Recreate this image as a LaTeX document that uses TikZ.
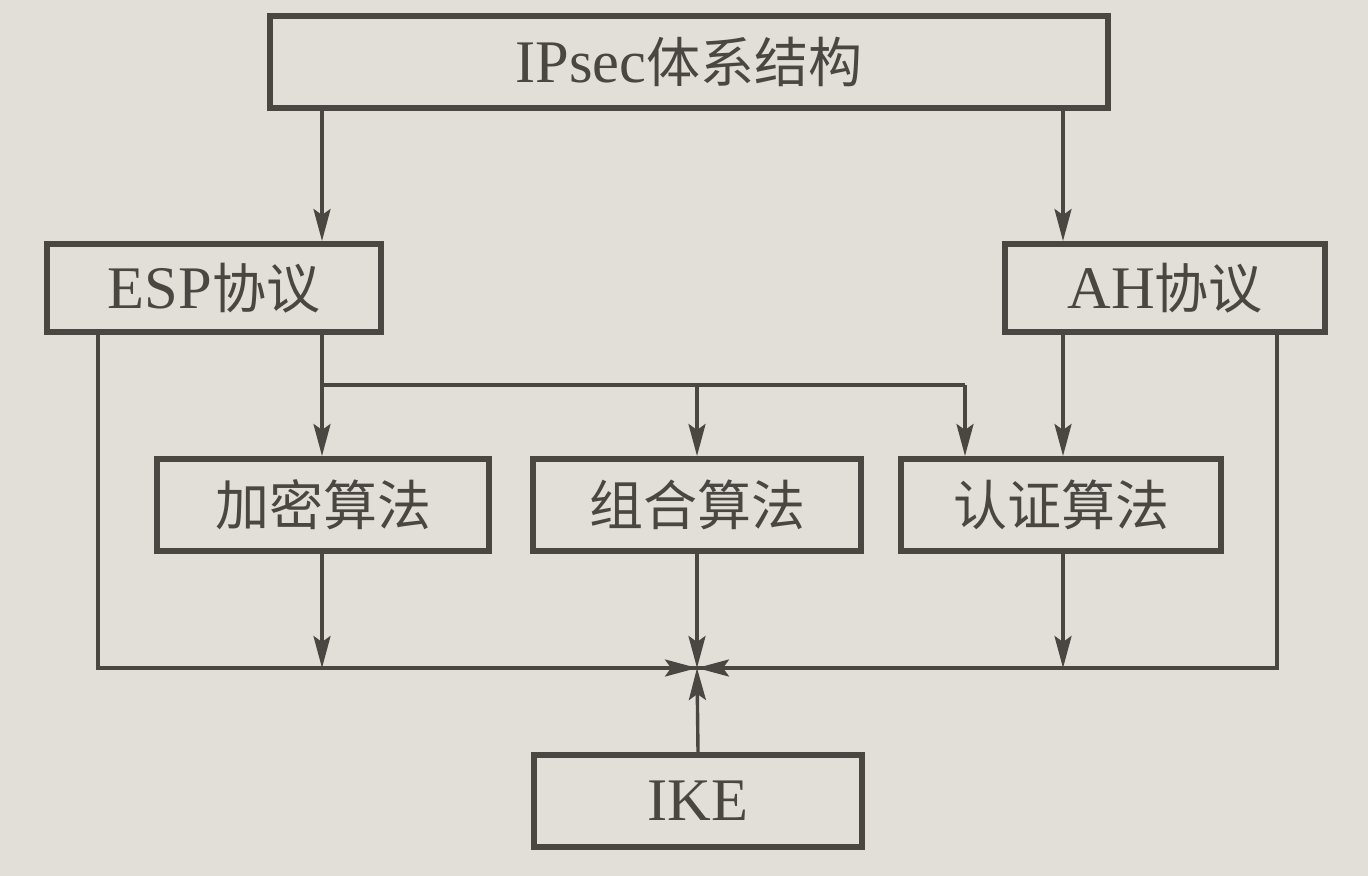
\documentclass[tikz,border=0pt]{standalone}
\usepackage{fontspec}
\setmainfont{Liberation Serif}[Scale=1.12]
\newfontfamily\cjk{Noto Sans CJK SC}
\usetikzlibrary{arrows.meta}
\definecolor{ink}{HTML}{4A4641}
\definecolor{paper}{HTML}{E2DFD9}
\tikzset{
  box/.style={draw=ink, line width=3pt, inner sep=0pt, text=ink,
    font=\fontsize{27}{32}\selectfont},
  conn/.style={draw=ink, line width=1.7pt},
  arr/.style={conn, -{Stealth[length=16pt,width=8.5pt,inset=3pt]}}
}
\begin{document}
\begin{tikzpicture}[x=0.5pt,y=-0.5pt]
\useasboundingbox[fill=paper] (0,0) rectangle (1368,876);
\node[box, minimum width=419pt, minimum height=46pt] (top) at (689,62) {IPsec{\cjk 体系结构}};
\node[box, minimum width=167pt, minimum height=44pt] (esp) at (214,288) {ESP{\cjk 协议}};
\node[box, minimum width=160pt, minimum height=44pt] (ah) at (1165,288) {AH{\cjk 协议}};
\node[box, minimum width=166pt, minimum height=46pt] (jm) at (323,505) {\cjk 加密算法};
\node[box, minimum width=164pt, minimum height=46pt] (zh) at (697,505) {\cjk 组合算法};
\node[box, minimum width=160pt, minimum height=46pt] (rz) at (1061,505) {\cjk 认证算法};
\node[box, minimum width=164pt, minimum height=46pt] (ike) at (698,801) {IKE};
\coordinate (c) at (697,668);
\coordinate (b1) at (322,385);
\coordinate (b2) at (965,385);
\coordinate (L) at (98,668);
\coordinate (R) at (1277,668);
% top to protocols
\draw[arr] (top.south -| b1) -- (esp.north -| b1);
\draw[arr] (top.south -| 1063,0) -- (ah.north -| 1063,0);
% ESP to algorithms
\draw[arr] (esp.south -| b1) -- (jm.north -| b1);
\draw[conn] (b1) -- (b2);
\draw[arr] (b1 -| zh.north) -- (zh.north);
\draw[arr] (b2) -- (rz.north -| b2);
% AH to authentication
\draw[arr] (ah.south -| 1063,0) -- (rz.north -| 1063,0);
% side lines
\draw[conn] (esp.south -| L) -- (L) -- (c);
\draw[arr] (L) -- (c);
\draw[conn] (ah.south -| R) -- (R) -- (c);
\draw[arr] (R) -- (c);
% arrows to the bottom line
\draw[arr] (jm.south -| b1) -- (c -| b1);
\draw[arr] (rz.south -| 1063,0) -- (c -| 1063,0);
\draw[arr] (zh.south) -- (c);
\draw[arr] (ike.north) -- (c);
\end{tikzpicture}
\end{document}
